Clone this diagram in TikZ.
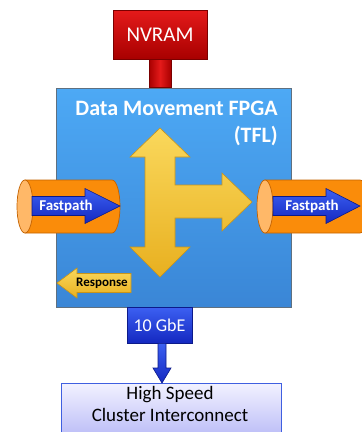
\documentclass[tikz,border=0pt]{standalone}
\usepackage{fontspec}
\setmainfont{Carlito}
\usetikzlibrary{calc}

\definecolor{boxtop}{HTML}{4DA9F5}
\definecolor{boxbot}{HTML}{3A86D6}
\definecolor{boxedge}{HTML}{5F7080}
\definecolor{redtop}{HTML}{E41A1A}
\definecolor{redbot}{HTML}{A80000}
\definecolor{rededge}{HTML}{7A0000}
\definecolor{goldtop}{HTML}{FAD85C}
\definecolor{goldbot}{HTML}{E8B020}
\definecolor{goldedge}{HTML}{C99418}
\definecolor{orangebody}{HTML}{FA8C0A}
\definecolor{orangeend}{HTML}{FFB868}
\definecolor{orangeedge}{HTML}{C46200}
\definecolor{bluetop}{HTML}{3C60F2}
\definecolor{bluebot}{HTML}{1428C0}
\definecolor{blueedge}{HTML}{0C1A8A}
\definecolor{lavtop}{HTML}{F2F2FF}
\definecolor{lavbot}{HTML}{B4B6F6}
\definecolor{lavedge}{HTML}{3F5FE0}

\tikzset{
  block/.style={draw, rectangle, inner sep=0pt, line width=0.8pt},
  fpgabox/.style={block, draw=boxedge, top color=boxtop, bottom color=boxbot},
  redbox/.style={block, draw=rededge, top color=redtop, bottom color=redbot,
    text=white, font=\fontsize{21}{24}\selectfont},
  gbebox/.style={block, draw=blueedge, top color=bluetop, bottom color=bluebot,
    text=white, font=\fontsize{18}{21}\selectfont},
  netbox/.style={block, draw=lavedge, top color=lavtop, bottom color=lavbot},
  nettext/.style={inner sep=0pt, text=black, align=center, font=\fontsize{19}{22}\selectfont},
  goldarrow/.style={draw=goldedge, line width=0.6pt, top color=goldtop, bottom color=goldbot},
  bluearrow/.style={draw=blueedge, line width=0.6pt, top color=bluetop, bottom color=bluebot},
  cylbody/.style={draw=orangeedge, line width=0.7pt, fill=orangebody},
  cylend/.style={draw=orangeedge, line width=0.7pt, fill=orangeend},
  pathlabel/.style={inner sep=0pt, text=white, font=\bfseries\fontsize{15}{17}\selectfont},
}

\begin{document}
\begin{tikzpicture}[x=1pt, y=-1pt]
\useasboundingbox (0,0) rectangle (362,432);
\clip (0,0) rectangle (362,432);

% FPGA block with its title
\node[fpgabox, minimum width=235pt, minimum height=219pt] (fpga) at (173.5,197.5) {};
\node[anchor=north east, inner sep=0pt, align=right, text=white,
      font=\bfseries\fontsize{22}{27}\selectfont] (title) at (278,101)
      {Data Movement FPGA\\(TFL)};

% NVRAM and its stem down to the FPGA
\node[redbox, minimum width=94pt, minimum height=49pt] (nvram) at (160,34.5) {NVRAM};
\coordinate (stemtop) at ($(nvram.south)+(-11,0)$);
\coordinate (stemright) at ($(nvram.south)+(11,0)$);
\coordinate (stembot) at (stemright |- fpga.north);
\shade[left color=redbot, right color=redbot, middle color=redtop, draw=rededge, line width=0.6pt]
  (stemtop) rectangle (stembot);

% Yellow routing cross
\path[goldarrow] (160,128) -- (190,157) -- (175,157) -- (175,185) -- (222,185)
  -- (222,173) -- (252,202) -- (222,231) -- (222,218) -- (175,218) -- (175,247)
  -- (190,247) -- (160,277) -- (130,247) -- (145,247) -- (145,157) -- (130,157) -- cycle;

% Response arrow
\path[goldarrow] (57,283) -- (77,268) -- (77,273.5) -- (131,273.5) -- (131,292.5)
  -- (77,292.5) -- (77,298) -- cycle;
\node[inner sep=0pt, font=\bfseries\fontsize{13}{15}\selectfont] (resp) at (102,283) {Response};

% Inbound fastpath pipe
\path[cylbody] (25,180) -- (112,180) arc[start angle=90, end angle=-90, x radius=8pt, y radius=26.5pt]
  -- (25,233) -- cycle;
\path[cylend] (25,206.5) ellipse[x radius=8pt, y radius=26.5pt];
\path[bluearrow] (32,196.5) -- (85,196.5) -- (85,188.5) -- (120,206) -- (85,223.5)
  -- (85,215.5) -- (32,215.5) -- cycle;
\node[pathlabel] (fpin) at (66,206) {Fastpath};

% Outbound fastpath pipe
\path[cylbody] (265,180) -- (360,180) arc[start angle=90, end angle=-90, x radius=8pt, y radius=26.5pt]
  -- (265,233) -- cycle;
\path[cylend] (265,206.5) ellipse[x radius=8pt, y radius=26.5pt];
\path[bluearrow] (273,196.5) -- (326,196.5) -- (326,188.5) -- (360,206) -- (326,223.5)
  -- (326,215.5) -- (273,215.5) -- cycle;
\node[pathlabel] (fpout) at (312,206) {Fastpath};

% Network port and cluster interconnect
\node[gbebox, minimum width=65pt, minimum height=36pt] (gbe) at (159.5,325) {10 GbE};
\node[netbox, minimum width=220pt, minimum height=60pt, anchor=north] (net) at (171,383) {};
\node[nettext, anchor=north] (netlabel) at (170,386)
  {High Speed\\Cluster Interconnect};

\coordinate (linkstart) at ($(gbe.south)+(2.5,0)$);
\coordinate (linkend) at (linkstart |- net.north);
\path[bluearrow] ($(linkstart)+(-4,0)$) -- ($(linkend)+(-4,-15)$) -- ($(linkend)+(-9,-15)$)
  -- (linkend) -- ($(linkend)+(9,-15)$) -- ($(linkend)+(4,-15)$) -- ($(linkstart)+(4,0)$) -- cycle;
\end{tikzpicture}
\end{document}
